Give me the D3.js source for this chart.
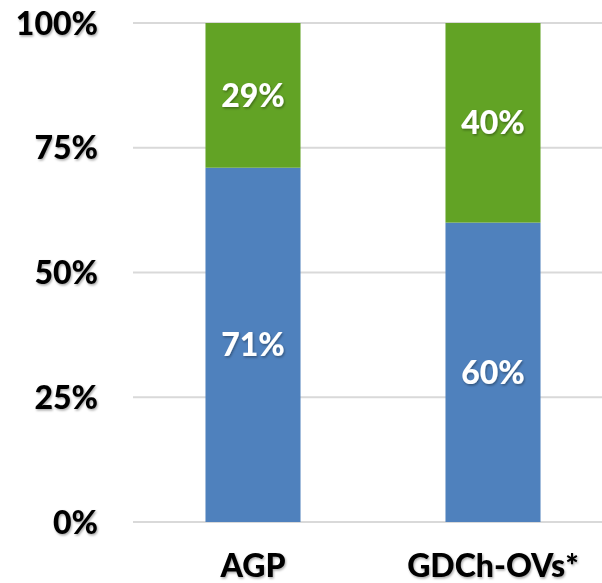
<!DOCTYPE html>
<html>
<head>
<meta charset="utf-8">
<script src="https://cdn.jsdelivr.net/npm/d3@7"></script>
<style>
  body { margin: 0; background: #fff; }
  svg text { font-family: Lato, "Open Sans", sans-serif; font-weight: 900; }
</style>
</head>
<body>
<svg id="chart"></svg>
<script>
const categories = ["AGP", "GDCh-OVs*"];
const lowerValues = [0.71, 0.60];   // blue
const upperValues = [0.29, 0.40];   // green
const yTicks = [0, 0.25, 0.5, 0.75, 1];

const width = 602, height = 583;
const colors = { lower: "#4f81bd", upper: "#62a325" };

const svg = d3.select("#chart")
    .attr("width", width)
    .attr("height", height);

const defs = svg.append("defs");
const shadow = defs.append("filter").attr("id", "shadow")
    .attr("x", "-20%").attr("y", "-20%").attr("width", "140%").attr("height", "140%");
shadow.append("feDropShadow")
    .attr("dx", 1).attr("dy", 1.5).attr("stdDeviation", 1)
    .attr("flood-color", "#000").attr("flood-opacity", 0.35);

const x = d3.scaleBand()
    .domain(categories)
    .range([133, 613])
    .paddingInner(0.604)
    .paddingOuter(0.302);

const y = d3.scaleLinear()
    .domain([0, 1])
    .range([522, 23]);

// gridlines
svg.append("g")
    .selectAll("line")
    .data(yTicks)
    .join("line")
    .attr("x1", 133)
    .attr("x2", width)
    .attr("y1", d => y(d))
    .attr("y2", d => y(d))
    .attr("stroke", "#d9d9d9")
    .attr("stroke-width", 2);

// y tick labels
svg.append("g")
    .selectAll("text")
    .data(yTicks)
    .join("text")
    .attr("x", 98)
    .attr("y", d => y(d))
    .attr("dy", "0.36em")
    .attr("text-anchor", "end")
    .attr("font-size", 32)
    .attr("fill", "#000")
    .attr("filter", "url(#shadow)")
    .text(d3.format(".0%"));

const data = categories.map((c, i) => ({ cat: c, lower: lowerValues[i], upper: upperValues[i] }));

// lower segments
svg.append("g")
    .selectAll("rect")
    .data(data)
    .join("rect")
    .attr("x", d => x(d.cat))
    .attr("width", x.bandwidth())
    .attr("y", d => y(d.lower))
    .attr("height", d => y(0) - y(d.lower))
    .attr("fill", colors.lower);

// upper segments
svg.append("g")
    .selectAll("rect")
    .data(data)
    .join("rect")
    .attr("x", d => x(d.cat))
    .attr("width", x.bandwidth())
    .attr("y", d => y(d.lower + d.upper))
    .attr("height", d => y(d.lower) - y(d.lower + d.upper))
    .attr("fill", colors.upper);

// value labels
const labels = svg.append("g")
    .attr("font-size", 32)
    .attr("fill", "#fff")
    .attr("text-anchor", "middle")
    .attr("filter", "url(#shadow)");

labels.selectAll(".lo")
    .data(data)
    .join("text")
    .attr("class", "lo")
    .attr("x", d => x(d.cat) + x.bandwidth() / 2)
    .attr("y", d => y(d.lower / 2))
    .attr("dy", "0.36em")
    .text(d => d3.format(".0%")(d.lower));

labels.selectAll(".up")
    .data(data)
    .join("text")
    .attr("class", "up")
    .attr("x", d => x(d.cat) + x.bandwidth() / 2)
    .attr("y", d => y(d.lower + d.upper / 2))
    .attr("dy", "0.36em")
    .text(d => d3.format(".0%")(d.upper));

// category labels
svg.append("g")
    .selectAll("text")
    .data(categories)
    .join("text")
    .attr("x", d => x(d) + x.bandwidth() / 2)
    .attr("y", 577)
    .attr("text-anchor", "middle")
    .attr("font-size", 32)
    .attr("fill", "#000")
    .attr("filter", "url(#shadow)")
    .text(d => d);
</script>
</body>
</html>
